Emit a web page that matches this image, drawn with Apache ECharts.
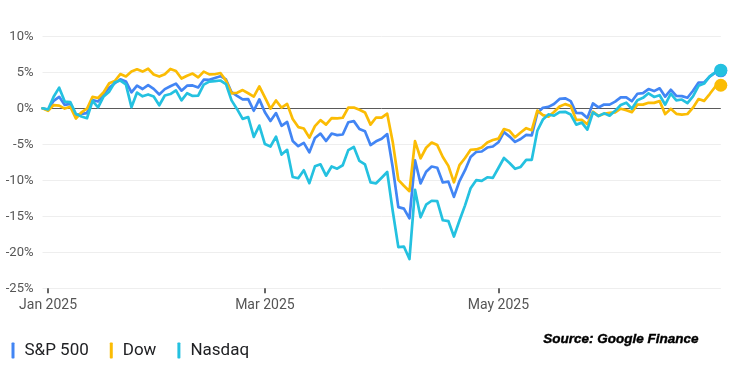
<!DOCTYPE html>
<html><head><meta charset="utf-8">
<script src="https://cdn.jsdelivr.net/npm/echarts@6/dist/echarts.min.js"></script>
<style>html,body{margin:0;padding:0;background:#fff}#c{width:750px;height:380px}</style>
</head><body><div id="c"></div>
<script>
// Trading days (baseline 2024-12-31 = 0%)
const dates = ['2024-12-31',
'2025-01-02','2025-01-03','2025-01-06','2025-01-07','2025-01-08','2025-01-10','2025-01-13','2025-01-14','2025-01-15','2025-01-16','2025-01-17','2025-01-21','2025-01-22','2025-01-23','2025-01-24','2025-01-27','2025-01-28','2025-01-29','2025-01-30','2025-01-31',
'2025-02-03','2025-02-04','2025-02-05','2025-02-06','2025-02-07','2025-02-10','2025-02-11','2025-02-12','2025-02-13','2025-02-14','2025-02-18','2025-02-19','2025-02-20','2025-02-21','2025-02-24','2025-02-25','2025-02-26','2025-02-27','2025-02-28',
'2025-03-03','2025-03-04','2025-03-05','2025-03-06','2025-03-07','2025-03-10','2025-03-11','2025-03-12','2025-03-13','2025-03-14','2025-03-17','2025-03-18','2025-03-19','2025-03-20','2025-03-21','2025-03-24','2025-03-25','2025-03-26','2025-03-27','2025-03-28','2025-03-31',
'2025-04-01','2025-04-02','2025-04-03','2025-04-04','2025-04-07','2025-04-08','2025-04-09','2025-04-10','2025-04-11','2025-04-14','2025-04-15','2025-04-16','2025-04-17','2025-04-21','2025-04-22','2025-04-23','2025-04-24','2025-04-25','2025-04-28','2025-04-29','2025-04-30',
'2025-05-01','2025-05-02','2025-05-05','2025-05-06','2025-05-07','2025-05-08','2025-05-09','2025-05-12','2025-05-13','2025-05-14','2025-05-15','2025-05-16','2025-05-19','2025-05-20','2025-05-21','2025-05-22','2025-05-23','2025-05-27','2025-05-28','2025-05-29','2025-05-30',
'2025-06-02','2025-06-03','2025-06-04','2025-06-05','2025-06-06','2025-06-09','2025-06-10','2025-06-11','2025-06-12','2025-06-13','2025-06-16','2025-06-17','2025-06-18','2025-06-20','2025-06-23','2025-06-24','2025-06-25','2025-06-26','2025-06-27','2025-06-30'];

const sp500 = [0,
-0.22,1.03,1.59,0.47,0.62,-0.93,-0.77,-0.66,1.16,0.95,1.96,2.85,3.48,4.03,3.73,2.22,3.16,2.68,3.22,2.70,
1.92,2.66,3.06,3.43,2.45,3.14,3.18,2.90,3.97,3.96,4.22,4.46,4.01,2.24,1.73,1.25,1.27,-0.34,1.24,
-0.54,-1.76,-0.66,-2.43,-1.89,-4.54,-5.26,-4.80,-6.12,-4.13,-3.51,-4.54,-3.51,-3.72,-3.64,-1.94,-1.78,-2.88,-3.20,-5.11,-4.59,
-4.23,-3.58,-8.25,-13.73,-13.93,-15.28,-7.22,-10.43,-8.81,-8.09,-8.25,-10.30,-10.18,-12.30,-10.10,-8.60,-6.75,-6.06,-6.00,-5.45,-5.31,
-4.72,-3.31,-3.93,-4.67,-4.26,-3.70,-3.77,-0.64,0.08,0.19,0.60,1.30,1.39,1.00,-0.63,-0.67,-1.34,0.68,0.12,0.52,0.51,
0.92,1.51,1.52,0.98,2.02,2.11,2.67,2.39,2.78,1.62,2.58,1.72,1.69,1.47,2.44,3.58,3.58,4.41,4.96,5.2];

const dow = [0,
-0.36,0.44,0.38,-0.04,0.21,-1.42,-0.58,-0.06,1.59,1.43,2.22,3.48,3.79,4.75,4.42,5.10,5.42,5.10,5.50,4.70,
4.41,4.73,5.47,5.18,4.14,4.53,4.82,4.29,5.09,4.71,4.73,4.90,3.84,2.08,2.16,2.53,2.09,1.63,3.05,
1.52,-0.05,1.09,0.08,0.61,-1.49,-2.61,-2.80,-4.07,-2.48,-1.65,-2.26,-1.36,-1.39,-1.31,0.09,0.10,-0.21,-0.57,-2.26,-1.28,
-1.30,-0.75,-4.70,-9.94,-10.76,-11.51,-4.55,-6.94,-5.48,-4.75,-5.11,-6.76,-8.00,-10.28,-7.89,-6.90,-5.76,-5.71,-5.45,-4.74,-4.41,
-4.21,-2.88,-3.12,-4.03,-3.36,-2.76,-3.04,-0.32,-0.95,-1.16,-0.52,0.26,0.58,0.31,-1.61,-1.61,-2.21,-0.47,-1.05,-0.77,-0.64,
-0.56,-0.06,-0.27,-0.53,0.51,0.51,0.76,0.75,1.00,-0.81,-0.07,-0.77,-0.88,-0.79,0.09,1.28,1.03,1.98,3.00,3.2];

const nasdaq = [0,
-0.16,1.61,2.87,0.93,0.87,-0.77,-1.15,-1.38,1.04,0.14,1.65,2.31,3.62,3.85,3.33,0.16,2.19,1.67,1.92,1.64,
0.42,1.78,1.98,2.49,1.10,2.09,1.72,1.76,3.29,3.71,3.78,3.86,3.37,1.10,-0.12,-1.47,-1.22,-3.97,-2.40,
-4.97,-5.31,-3.93,-6.43,-5.77,-9.54,-9.71,-8.61,-10.40,-8.06,-7.78,-9.36,-8.08,-8.38,-7.91,-5.81,-5.38,-7.31,-7.80,-10.29,-10.42,
-9.64,-8.85,-14.29,-19.28,-19.20,-20.94,-11.32,-15.14,-13.39,-12.84,-12.88,-15.55,-15.66,-17.81,-15.59,-13.48,-11.11,-9.98,-10.07,-9.58,-9.66,
-8.29,-6.90,-7.59,-8.40,-8.14,-7.16,-7.16,-3.12,-1.56,-0.85,-1.03,-0.52,-0.49,-0.87,-2.27,-1.99,-2.97,-0.58,-1.09,-0.70,-1.02,
-0.35,0.46,0.78,-0.06,1.13,1.45,2.09,1.58,1.82,0.50,2.02,1.09,1.22,0.71,1.66,3.12,3.43,4.44,4.98,5.3];

const seriesNames = ['S&P 500', 'Dow', 'Nasdaq'];
const seriesColors = ['#4285F4', '#FBBC04', '#24C1E0'];
const tickDates = ['2025-01-02', '2025-03-03', '2025-05-01'];
const tickLabels = ['Jan 2025', 'Mar 2025', 'May 2025'];
const yMin = -25, yMax = 10, yStep = 5;

const chart = echarts.init(document.getElementById('c'), null, {renderer: 'canvas'});
const showTick = (idx, val) => tickDates.indexOf(val) >= 0;
const lastIdx = dates.length - 1;

const mkSeries = (name, data, color) => ({
  name, type: 'line', data,
  symbol: 'circle', showSymbol: true, showAllSymbol: true,
  symbolSize: (v, p) => p.dataIndex === lastIdx ? 13 : 0,
  itemStyle: {color, borderWidth: 0},
  lineStyle: {color, width: 2.7, join: 'round', cap: 'round'},
  emphasis: {disabled: true},
  silent: true
});

// split line colours: darker line at 0%
const gridColors = [];
for (let v = yMin; v <= yMax; v += yStep) gridColors.push(v === 0 ? '#5a5a5a' : '#eeeeee');

chart.setOption({
  animation: false,
  backgroundColor: '#ffffff',
  textStyle: {fontFamily: 'Roboto'},
  grid: {left: 42.5, right: 29.2, top: 36.3, bottom: 91.7, containLabel: false},
  xAxis: {
    type: 'category', data: dates, boundaryGap: false,
    axisLine: {show: false, onZero: false},
    axisTick: {show: true, interval: showTick, length: 5, lineStyle: {color: '#666', width: 2}},
    axisLabel: {
      interval: showTick, margin: 10, color: '#555', fontSize: 14, fontFamily: 'Roboto',
      formatter: (val) => tickLabels[tickDates.indexOf(val)]
    },
    splitLine: {show: false}
  },
  yAxis: {
    type: 'value', min: yMin, max: yMax, interval: yStep,
    axisLine: {show: false}, axisTick: {show: false},
    axisLabel: {formatter: '{value}%', color: '#555', fontSize: 13, margin: 9, fontFamily: 'Roboto'},
    splitLine: {show: true, lineStyle: {color: gridColors, width: 1}}
  },
  legend: {
    left: 11.5, top: 342, padding: 0, itemWidth: 3, itemHeight: 16, itemGap: 21, icon: 'roundRect',
    selectedMode: false,
    data: seriesNames,
    textStyle: {fontSize: 17, color: '#202124', fontFamily: 'Roboto', padding: [0, 0, 0, 5]}
  },
  series: [
    mkSeries(seriesNames[0], sp500, seriesColors[0]),
    mkSeries(seriesNames[1], dow, seriesColors[1]),
    mkSeries(seriesNames[2], nasdaq, seriesColors[2])
  ],
  graphic: [{
    type: 'text', left: 543, top: 332,
    style: {text: 'Source: Google Finance', font: 'italic bold 13.5px "Liberation Sans"', fill: '#000', stroke: '#000', lineWidth: 0.4}
  }]
});
</script></body></html>
